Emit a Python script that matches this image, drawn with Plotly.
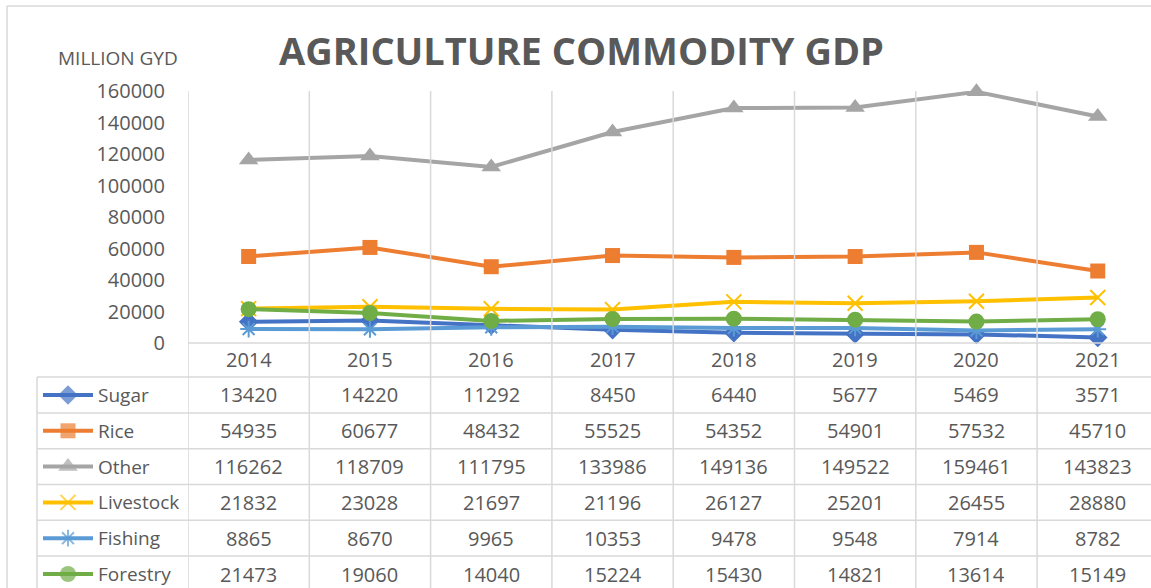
import plotly.graph_objects as go

years = ["2014", "2015", "2016", "2017", "2018", "2019", "2020", "2021"]
series_names = ["Sugar", "Rice", "Other", "Livestock", "Fishing", "Forestry"]
sugar = [13420, 14220, 11292, 8450, 6440, 5677, 5469, 3571]
rice = [54935, 60677, 48432, 55525, 54352, 54901, 57532, 45710]
other = [116262, 118709, 111795, 133986, 149136, 149522, 159461, 143823]
livestock = [21832, 23028, 21697, 21196, 26127, 25201, 26455, 28880]
fishing = [8865, 8670, 9965, 10353, 9478, 9548, 7914, 8782]
forestry = [21473, 19060, 14040, 15224, 15430, 14821, 13614, 15149]
y_ticks = [0, 20000, 40000, 60000, 80000, 100000, 120000, 140000, 160000]

values = [sugar, rice, other, livestock, fishing, forestry]
colors = ["#4472C4", "#ED7D31", "#A5A5A5", "#FFC000", "#5B9BD5", "#70AD47"]
symbols = ["diamond", "square", "triangle-up", "x-thin", "asterisk", "circle"]
sizes = [15, 15, 17, 15, 14, 16]

W, H = 1151, 588
FONT = "Open Sans"
TXT = "#595959"
GRID = "#d9d9d9"

plot_left = 188 / W
plot_top = (H - 91) / H
plot_bot = (H - 343) / H

fig = go.Figure()

for name, vals, c, s, sz in zip(series_names, values, colors, symbols, sizes):
    thin = s in ("x-thin", "asterisk")
    fig.add_trace(go.Scatter(
        x=years, y=vals, mode="lines+markers", name=name,
        line=dict(color=c, width=4),
        marker=dict(symbol=s, size=sz, color=c,
                    line=dict(color=c, width=2 if thin else 0)),
        xaxis="x", yaxis="y", showlegend=False, cliponaxis=False,
    ))

# legend keys in table
for k, (name, c, s, sz) in enumerate(zip(series_names, colors, symbols, sizes)):
    thin = s in ("x-thin", "asterisk")
    fig.add_trace(go.Scatter(
        x=[43, 68, 93], y=[k + 1] * 3, mode="lines+markers",
        line=dict(color=c, width=4),
        marker=dict(symbol=s, size=[0, sz, 0], color=c,
                    line=dict(color=c, width=2 if thin else 0)),
        xaxis="x2", yaxis="y2", showlegend=False, hoverinfo="skip",
    ))

shapes = []
for i in range(len(years) + 1):
    shapes.append(dict(type="line", xref="x", yref="paper",
                       x0=i - 0.5, x1=i - 0.5, y0=0, y1=plot_top,
                       line=dict(color=GRID, width=1.5)))
shapes.append(dict(type="line", xref="paper", yref="paper",
                   x0=plot_left, x1=1, y0=plot_bot, y1=plot_bot,
                   line=dict(color=GRID, width=1.5)))
for k in range(len(series_names)):
    shapes.append(dict(type="line", xref="paper", yref="y2",
                       x0=37 / W, x1=1, y0=k + 0.5, y1=k + 0.5,
                       line=dict(color=GRID, width=1.5)))
shapes.append(dict(type="line", xref="paper", yref="y2",
                   x0=37 / W, x1=37 / W, y0=0.5, y1=7,
                   line=dict(color=GRID, width=1.5)))
shapes.append(dict(type="line", xref="paper", yref="paper",
                   x0=7 / W, x1=1, y0=(H - 6) / H, y1=(H - 6) / H,
                   line=dict(color=GRID, width=1.5)))
shapes.append(dict(type="line", xref="paper", yref="paper",
                   x0=7 / W, x1=7 / W, y0=0, y1=(H - 6) / H,
                   line=dict(color=GRID, width=1.5)))

annotations = []
for i, yr in enumerate(years):
    annotations.append(dict(x=i, y=0, xref="x", yref="y2", text=yr,
                            xanchor="center", yanchor="middle",
                            showarrow=False, font=dict(family=FONT, size=20, color=TXT)))
for k, (name, vals) in enumerate(zip(series_names, values)):
    annotations.append(dict(x=96 / W, y=k + 1, xref="paper", yref="y2", text=name,
                            xanchor="left", yanchor="middle", showarrow=False,
                            font=dict(family=FONT, size=19, color=TXT)))
    for i, v in enumerate(vals):
        annotations.append(dict(x=i, y=k + 1, xref="x", yref="y2", text=str(v),
                                xanchor="center", yanchor="middle",
                                showarrow=False, font=dict(family=FONT, size=20, color=TXT)))
annotations.append(dict(x=581 / W, y=(H - 50) / H, xref="paper", yref="paper",
                        text="<b>AGRICULTURE COMMODITY GDP</b>", showarrow=False,
                        xanchor="center", yanchor="middle",
                        font=dict(family=FONT, size=38, color=TXT)))
annotations.append(dict(x=118 / W, y=(H - 58) / H, xref="paper", yref="paper",
                        text="MILLION GYD", showarrow=False,
                        xanchor="center", yanchor="middle",
                        font=dict(family=FONT, size=19, color=TXT)))

row_h = 35.8
y2_top = 1 + (343 - 395) / row_h
y2_bot = 1 + (588 - 395) / row_h

fig.update_layout(
    width=W, height=H,
    margin=dict(l=0, r=0, t=0, b=0, pad=0, autoexpand=False),
    paper_bgcolor="white", plot_bgcolor="white",
    xaxis=dict(type="category", domain=[plot_left, 1], range=[-0.5, -0.5 + (W - 188) / 121.3],
               showgrid=False, zeroline=False, showline=False, showticklabels=False,
               anchor="y", automargin=False),
    yaxis=dict(domain=[plot_bot, plot_top], range=[0, 160000], tickvals=y_ticks,
               tickformat="d",
               showgrid=False, zeroline=False, showline=False,
               ticks="outside", ticklen=18, tickcolor="rgba(0,0,0,0)",
               tickfont=dict(family=FONT, size=20, color=TXT), anchor="x", automargin=False),
    xaxis2=dict(domain=[0, plot_left], range=[0, 188], visible=False, anchor="y2"),
    yaxis2=dict(domain=[0, plot_bot], range=[y2_bot, y2_top], visible=False, anchor="x2"),
    shapes=shapes, annotations=annotations,
)

fig.write_html("out.html")
